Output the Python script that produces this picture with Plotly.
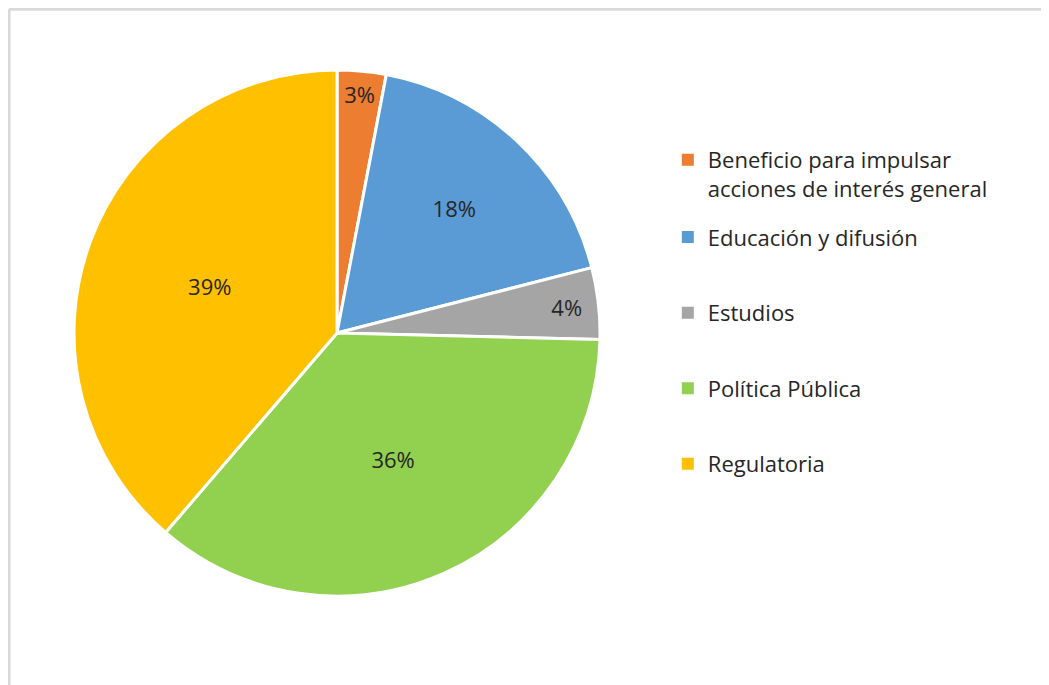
import plotly.graph_objects as go

labels = [
    "Beneficio para impulsar<br>acciones de interés general",
    "Educación y difusión",
    "Estudios",
    "Política Pública",
    "Regulatoria",
]
values = [3.0, 18.0, 4.4, 35.9, 38.7]
colors = ["#ED7D31", "#5B9BD5", "#A5A5A5", "#92D050", "#FFC000"]

FONT = "Open Sans, sans-serif"
TEXT_COLOR = "#262626"

fig = go.Figure()
fig.add_trace(go.Pie(
    labels=labels,
    values=values,
    sort=False,
    direction="clockwise",
    rotation=0,
    marker=dict(colors=colors, line=dict(color="white", width=3)),
    texttemplate="%{percent:.0%}",
    textposition="inside",
    insidetextorientation="horizontal",
    textfont=dict(family=FONT, size=22, color=TEXT_COLOR),
    domain=dict(x=[0.0629, 0.5644], y=[0.1416, 0.9095]),
    showlegend=False,
    hoverinfo="label+percent",
))

# legend entries: first (two-line) item in its own legend, the rest grouped
for i, (lab, col) in enumerate(zip(labels, colors)):
    fig.add_trace(go.Scatter(
        x=[None], y=[None], mode="markers", name=lab,
        marker=dict(symbol="square", size=12, color=col),
        legendgroup=f"g{i}", showlegend=True,
        legend="legend" if i == 0 else "legend2",
    ))

legend_style = dict(
    xanchor="left", yanchor="top",
    font=dict(family=FONT, size=22, color=TEXT_COLOR),
    traceorder="grouped", tracegroupgap=44,
    itemwidth=30, valign="top", bgcolor="rgba(0,0,0,0)",
)

fig.update_layout(
    width=1049, height=685,
    margin=dict(l=0, r=0, t=0, b=0),
    paper_bgcolor="white",
    plot_bgcolor="white",
    xaxis=dict(visible=False),
    yaxis=dict(visible=False),
    legend=dict(x=0.629, y=0.809, **legend_style),
    legend2=dict(x=0.629, y=0.696, **legend_style),
    shapes=[
        dict(type="line", xref="paper", yref="paper", x0=0.001, x1=1,
             y0=0.998, y1=0.998, line=dict(color="#D9D9D9", width=3)),
        dict(type="line", xref="paper", yref="paper", x0=0.001, x1=0.001,
             y0=0, y1=0.998, line=dict(color="#D9D9D9", width=3)),
    ],
)

fig.write_html("out.html")
